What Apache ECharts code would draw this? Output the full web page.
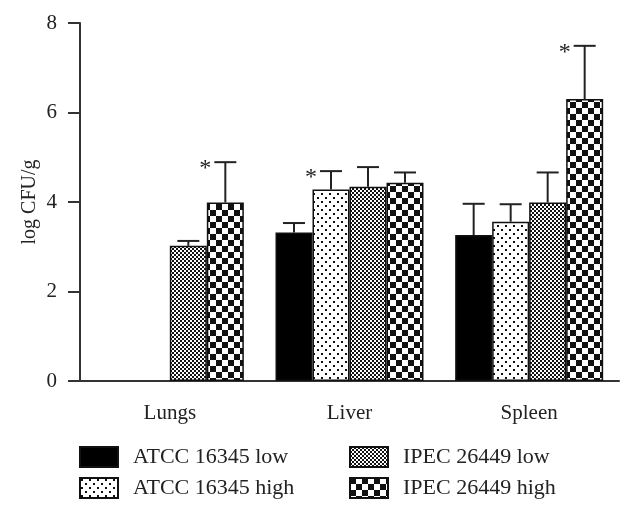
<!DOCTYPE html>
<html>
<head>
<meta charset="utf-8">
<script src="https://cdn.jsdelivr.net/npm/echarts@6/dist/echarts.min.js"></script>
<style>
html,body{margin:0;padding:0;background:#fff;}
#chart{width:633px;height:510px;}
</style>
</head>
<body>
<div id="chart"></div>
<script>
// ---- data ----
const categories = ['Lungs', 'Liver', 'Spleen'];
const seriesNames = ['ATCC 16345 low', 'ATCC 16345 high', 'IPEC 26449 low', 'IPEC 26449 high'];
const atccLow = [null, 3.32, 3.26];
const atccHigh = [null, 4.28, 3.56];
const ipecLow = [3.02, 4.34, 3.99];
const ipecHigh = [3.99, 4.43, 6.30];
const atccLowErr = [null, 0.21, 0.70];
const atccHighErr = [null, 0.41, 0.39];
const ipecLowErr = [0.11, 0.44, 0.67];
const ipecHighErr = [0.90, 0.23, 1.19];
const atccLowSig = [false, false, false];
const atccHighSig = [false, true, false];
const ipecLowSig = [false, false, false];
const ipecHighSig = [true, false, true];
const yTicks = [0, 2, 4, 6, 8];

// ---- patterns ----
function makeTile(w, h, draw) {
  const c = document.createElement('canvas');
  c.width = w; c.height = h;
  const g = c.getContext('2d');
  g.fillStyle = '#fff'; g.fillRect(0, 0, w, h);
  g.fillStyle = '#111';
  draw(g);
  return c;
}
const dotTile = makeTile(8, 8, g => { g.fillRect(1, 1, 2, 2); g.fillRect(5, 5, 2, 2); });
const fineTile = makeTile(4, 4, g => { g.fillRect(0, 0, 2, 2); g.fillRect(2, 2, 2, 2); });
const coarseTile = makeTile(12, 12, g => { g.fillRect(0, 0, 6, 6); g.fillRect(6, 6, 6, 6); });

const fills = ['#000', { image: dotTile, repeat: 'repeat' }, { image: fineTile, repeat: 'repeat' }, { image: coarseTile, repeat: 'repeat' }];
const values = [atccLow, atccHigh, ipecLow, ipecHigh];
const errs = [atccLowErr, atccHighErr, ipecLowErr, ipecHighErr];
const sigs = [atccLowSig, atccHighSig, ipecLowSig, ipecHighSig];

const FONT = '"Liberation Serif", "DejaVu Serif", serif';
const BAR_W = 37;

const series = [];
values.forEach((vals, s) => {
  series.push({
    name: seriesNames[s],
    type: 'bar',
    data: vals,
    barWidth: BAR_W,
    barGap: '0%',
    itemStyle: { color: fills[s], borderColor: '#111', borderWidth: 1.5 },
    emphasis: { disabled: true },
    z: 2
  });
});
values.forEach((vals, s) => {
  const offset = (s - 1.5) * BAR_W;
  series.push({
    type: 'custom',
    silent: true,
    z: 3,
    data: vals.map((v, i) => [i, v, errs[s][i], sigs[s][i] ? 1 : 0]),
    renderItem: function (params, api) {
      const v = api.value(1);
      if (v === null || v === undefined || isNaN(v)) return;
      const e = api.value(2);
      const base = api.coord([api.value(0), v]);
      const top = api.coord([api.value(0), v + e]);
      const x = base[0] + offset;
      const children = [
        { type: 'line', shape: { x1: x, y1: base[1], x2: x, y2: top[1] }, style: { stroke: '#222', lineWidth: 2 } },
        { type: 'line', shape: { x1: x - 11, y1: top[1], x2: x + 11, y2: top[1] }, style: { stroke: '#222', lineWidth: 2 } }
      ];
      if (api.value(3)) {
        children.push({ type: 'text', style: { text: '*', x: x - 14, y: top[1] + 7, align: 'right', verticalAlign: 'middle', font: '24px ' + FONT, fill: '#222' } });
      }
      return { type: 'group', children: children };
    }
  });
});

const legendText = { fontFamily: FONT, fontSize: 22, color: '#222', padding: [0, 0, 0, 10], lineHeight: 20 };

const chart = echarts.init(document.getElementById('chart'), null, { renderer: 'canvas' });
chart.setOption({
  animation: false,
  backgroundColor: '#fff',
  grid: { left: 80, right: 14, top: 23, bottom: 129 },
  legend: [
    { data: [seriesNames[0], seriesNames[1]], orient: 'vertical', left: 79, top: 446, padding: 0, itemWidth: 38, itemHeight: 20, itemGap: 9, selectedMode: false, icon: 'rect', textStyle: legendText },
    { data: [seriesNames[2], seriesNames[3]], orient: 'vertical', left: 349, top: 446, padding: 0, itemWidth: 38, itemHeight: 20, itemGap: 9, selectedMode: false, icon: 'rect', textStyle: legendText }
  ],
  xAxis: {
    type: 'category',
    data: categories,
    axisLine: { lineStyle: { color: '#333', width: 2 } },
    axisTick: { alignWithLabel: true, inside: false, length: 10, lineStyle: { color: '#333', width: 2 } },
    axisLabel: { margin: 22, fontFamily: FONT, fontSize: 21, color: '#222' }
  },
  yAxis: {
    type: 'value',
    min: yTicks[0], max: yTicks[yTicks.length - 1], interval: 2,
    name: 'log CFU/g', nameLocation: 'middle', nameGap: 40, nameMoveOverlap: false,
    nameTextStyle: { fontFamily: FONT, fontSize: 20, color: '#222' },
    axisLine: { show: true, lineStyle: { color: '#333', width: 2 } },
    axisTick: { show: true, length: 12, lineStyle: { color: '#333', width: 2 } },
    axisLabel: { margin: 23, fontFamily: FONT, fontSize: 21, color: '#222' },
    splitLine: { show: false }
  },
  series: series
});
</script>
</body>
</html>
